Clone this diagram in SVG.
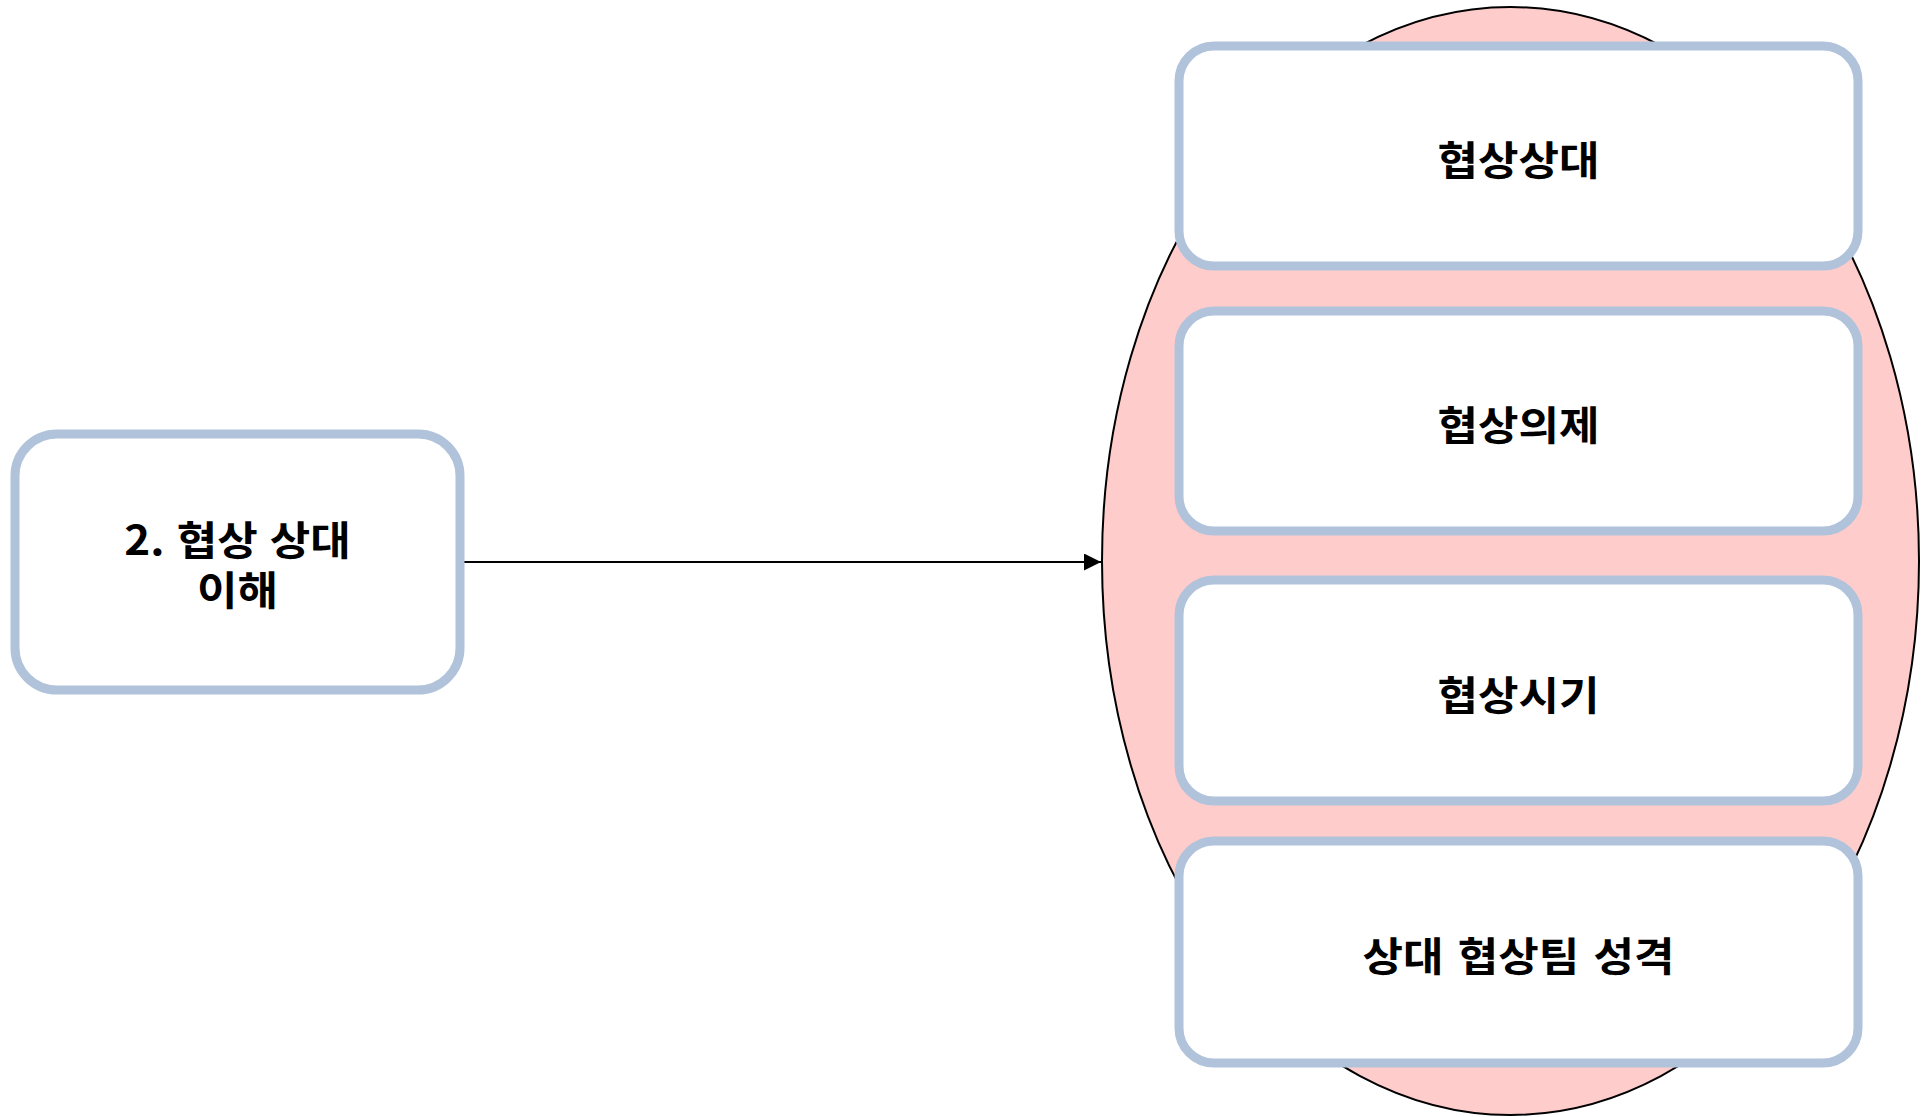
<svg xmlns="http://www.w3.org/2000/svg" width="1929" height="1117" viewBox="0 0 1929 1117">
<defs>
<style>
.box{fill:#FFFFFF;stroke:#B0C3DB;stroke-width:9}
.lbl{font-family:"Noto Sans CJK KR","Noto Sans",sans-serif;font-weight:bold;font-size:40px;fill:#000000;text-anchor:middle}
.edge{stroke:#000000;stroke-width:2;fill:none}
</style>
<marker id="arrow" viewBox="0 0 10 10" refX="10" refY="5" markerWidth="17" markerHeight="17" markerUnits="userSpaceOnUse" orient="auto">
<path d="M0,0 L10,5 L0,10 Z" fill="#000000"/>
</marker>
</defs>
<rect width="1929" height="1117" fill="#FFFFFF"/>
<g id="group-ellipse">
<ellipse cx="1510.5" cy="561" rx="408.5" ry="554" fill="#FFCCCC" stroke="#000000" stroke-width="2"/>
</g>
<g id="connectors">
<line class="edge" x1="460" y1="562" x2="1101" y2="562" marker-end="url(#arrow)"/>
</g>
<g id="node-understand">
<rect class="box" x="15" y="434" width="445" height="256" rx="42" ry="42"/>
<text class="lbl" transform="translate(237.5,555) scale(1.1,1)" x="0" y="0" word-spacing="2"><tspan x="0" y="0">2. 협상 상대</tspan><tspan x="0" y="50">이해</tspan></text>
</g>
<g id="node-counterpart">
<rect class="box" x="1179" y="46" width="679" height="220" rx="35" ry="35"/>
<text class="lbl" transform="translate(1518.5,175) scale(1.1,1)" x="0" y="0">협상상대</text>
</g>
<g id="node-agenda">
<rect class="box" x="1179" y="311" width="679" height="220" rx="35" ry="35"/>
<text class="lbl" transform="translate(1518.5,440) scale(1.1,1)" x="0" y="0">협상의제</text>
</g>
<g id="node-timing">
<rect class="box" x="1179" y="580" width="679" height="221" rx="35" ry="35"/>
<text class="lbl" transform="translate(1518.5,710) scale(1.1,1)" x="0" y="0">협상시기</text>
</g>
<g id="node-team">
<rect class="box" x="1179" y="841" width="679" height="222" rx="35" ry="35"/>
<text class="lbl" transform="translate(1518.5,971) scale(1.1,1)" x="0" y="0" word-spacing="4">상대 협상팀 성격</text>
</g>
</svg>
